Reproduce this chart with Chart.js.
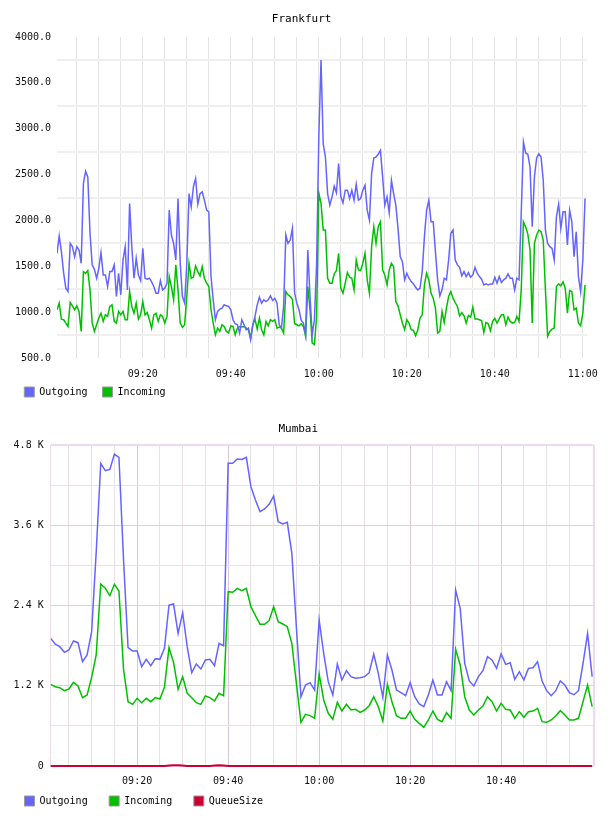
<!DOCTYPE html>
<html>
<head>
<meta charset="utf-8">
<script src="https://cdn.jsdelivr.net/npm/chart.js@4.4.1/dist/chart.umd.min.js"></script>
<style>
  body { margin: 0; background: #fff; }
  canvas { display: block; }
</style>
</head>
<body>
<canvas id="frankfurt" width="608" height="407"></canvas>
<canvas id="mumbai" width="608" height="409"></canvas>
<script>
// Frankfurt: one sample every 30 s, starting 09:00:30 (minutes after 09:00)
var frankOut = [
  1641, 1830, 1660, 1431, 1261, 1225, 1750, 1714, 1605, 1714,
  1678, 1533, 2403, 2536, 2475, 1860, 1515, 1467, 1370, 1478,
  1649, 1406, 1406, 1279, 1442, 1442, 1515, 1170, 1424, 1189,
  1569, 1714, 1243, 2185, 1714, 1370, 1587, 1406, 1344, 1696,
  1370, 1359, 1370, 1330, 1279, 1207, 1207, 1344, 1243, 1261,
  1315, 2112, 1841, 1750, 1569, 2239, 1533, 1170, 1098, 1533,
  2293, 2149, 2366, 2457, 2178, 2293, 2312, 2221, 2112, 2094,
  1388, 1134, 917, 1008, 1033, 1044, 1080, 1069, 1062, 1026,
  917, 873, 862, 772, 917, 862, 808, 826, 700, 862,
  953, 1080, 1163, 1098, 1134, 1116, 1134, 1178, 1127, 1152,
  1098, 862, 826, 1062, 1841, 1750, 1786, 1913, 1207, 1098,
  1026, 909, 881, 753, 1678, 1170, 753, 917, 1533, 2909,
  3750, 2837, 2692, 2293, 2166, 2257, 2373, 2301, 2620, 2257,
  2192, 2330, 2330, 2239, 2330, 2221, 2395, 2221, 2239, 2330,
  2384, 2112, 2004, 2511, 2681, 2692, 2721, 2764, 2475, 2166,
  2257, 2083, 2438, 2293, 2166, 1913, 1605, 1551, 1352, 1424,
  1370, 1333, 1308, 1272, 1243, 1261, 1442, 1823, 2112, 2221,
  1985, 1985, 1660, 1352, 1178, 1243, 1370, 1352, 1569, 1859,
  1895, 1569, 1515, 1489, 1395, 1442, 1388, 1431, 1381, 1406,
  1489, 1424, 1388, 1359, 1297, 1308, 1297, 1308, 1308, 1381,
  1315, 1388, 1322, 1352, 1370, 1417, 1370, 1370, 1243, 1370,
  1352, 2076, 2855, 2735, 2721, 2583, 1931, 2475, 2681, 2728,
  2692, 2438, 1895, 1750, 1714, 1696, 1569, 2040, 2178, 1913,
  2094, 2094, 1732, 2112, 1985, 1605, 1877, 1388, 1225, 1569,
  2239
];
var frankIn = [
  1026, 1098, 924, 917, 881, 844, 1105, 1069, 1026, 1069,
  1008, 790, 1442, 1424, 1453, 1243, 881, 790, 862, 935,
  989, 899, 971, 953, 1062, 1080, 899, 881, 1008, 971,
  1008, 917, 917, 1225, 1062, 989, 1098, 924, 971, 1116,
  971, 996, 917, 826, 971, 989, 899, 971, 953, 881,
  953, 1388, 1279, 1134, 1515, 1243, 881, 833, 862, 1170,
  1533, 1370, 1381, 1504, 1442, 1395, 1496, 1370, 1315, 1279,
  1026, 881, 753, 826, 790, 862, 844, 790, 772, 851,
  844, 753, 826, 844, 837, 844, 826, 808, 717, 862,
  924, 815, 935, 808, 753, 899, 851, 917, 899, 917,
  826, 837, 826, 772, 1225, 1189, 1170, 1141, 873, 862,
  851, 873, 844, 736, 1279, 1026, 663, 645, 953, 2300,
  2185, 1895, 1895, 1370, 1315, 1315, 1417, 1453, 1641, 1261,
  1207, 1315, 1431, 1381, 1370, 1243, 1569, 1460, 1453, 1533,
  1641, 1352, 1207, 1714, 1931, 1750, 1931, 1985, 1460, 1406,
  1297, 1460, 1533, 1496, 1116, 1069, 971, 881, 808, 917,
  881, 808, 801, 743, 808, 935, 971, 1297, 1424, 1352,
  1207, 1152, 1044, 772, 790, 1008, 888, 1044, 1170, 1225,
  1152, 1105, 1062, 960, 996, 960, 881, 964, 946, 1055,
  924, 924, 917, 909, 779, 888, 873, 797, 899, 931,
  881, 928, 971, 971, 862, 946, 899, 881, 888, 953,
  899, 1243, 1985, 1931, 1851, 1678, 881, 1750, 1841, 1895,
  1877, 1786, 1243, 736, 790, 815, 826, 1279, 1308, 1286,
  1330, 1261, 989, 1236, 1225, 1026, 1044, 881, 851, 989,
  1297
];

// Mumbai: one sample per minute, 09:01 .. 11:00
var mumOut = [
  1909, 1820, 1784, 1700, 1735, 1869, 1844, 1560, 1660, 2009,
  3200, 4526, 4416, 4436, 4661, 4616, 3100, 1769, 1720, 1720,
  1485, 1595, 1500, 1605, 1595, 1760, 2407, 2422, 1984, 2292,
  1784, 1395, 1525, 1450, 1585, 1595, 1500, 1835, 1799, 4526,
  4526, 4591, 4585, 4616, 4177, 3977, 3803, 3843, 3913, 4037,
  3653, 3619, 3644, 3180, 2070, 1036, 1211, 1246, 1136, 2183,
  1685, 1261, 1062, 1525, 1286, 1425, 1336, 1311, 1321, 1336,
  1395, 1675, 1386, 1027, 1660, 1435, 1136, 1096, 1051, 1246,
  1036, 927, 887, 1062, 1286, 1062, 1062, 1261, 1126, 2630,
  2358, 1535, 1271, 1196, 1336, 1425, 1635, 1585, 1460, 1675,
  1520, 1545, 1296, 1410, 1286, 1460, 1470, 1560, 1271, 1126,
  1051, 1126, 1271, 1211, 1096, 1066, 1126, 1535, 1984, 1336
];
var mumIn = [
  1221, 1186, 1171, 1126, 1151, 1251, 1196, 1022, 1062, 1326,
  1660, 2721, 2657, 2547, 2717, 2617, 1450, 962, 922, 1012,
  947, 1012, 962, 1022, 1002, 1176, 1769, 1550, 1147, 1336,
  1087, 1022, 947, 922, 1047, 1022, 972, 1087, 1051, 2607,
  2597, 2657, 2622, 2657, 2382, 2248, 2118, 2118, 2173, 2382,
  2158, 2123, 2083, 1835, 1236, 653, 773, 753, 713, 1376,
  987, 788, 698, 952, 822, 922, 837, 847, 802, 837,
  902, 1036, 887, 673, 1221, 962, 753, 713, 713, 822,
  698, 638, 578, 688, 822, 698, 663, 797, 713, 1745,
  1510, 1036, 837, 763, 837, 897, 1036, 962, 822, 937,
  847, 837, 713, 812, 728, 812, 822, 862, 663, 653,
  688, 748, 827, 763, 688, 688, 713, 962, 1211, 887
];
var mumQueue = [
  0, 0, 0, 0, 0, 0, 0, 0, 0, 0,
  0, 0, 0, 0, 0, 0, 0, 0, 0, 0,
  0, 0, 0, 0, 0, 0, 8, 12, 10, 6,
  0, 0, 0, 0, 0, 0, 6, 10, 8, 0,
  0, 0, 0, 0, 0, 0, 0, 0, 0, 0,
  0, 0, 0, 0, 0, 0, 0, 0, 0, 0,
  0, 0, 0, 0, 0, 0, 0, 0, 0, 0,
  0, 0, 0, 0, 0, 0, 0, 0, 0, 0,
  0, 0, 0, 0, 0, 0, 0, 0, 0, 0,
  0, 0, 0, 0, 0, 0, 0, 0, 0, 0,
  0, 0, 0, 0, 0, 0, 0, 0, 0, 0,
  0, 0, 0, 0, 0, 0, 0, 0, 0, 0
];

var frankTimes = frankOut.map(function (v, i) { return 0.5 + i * 0.5; });
var mumTimes = mumOut.map(function (v, i) { return 1 + i; });

var blue = '#6464ff', green = '#00c000', red = '#cc0033';
var mono = "'DejaVu Sans Mono', monospace";

Chart.defaults.font.family = mono;
Chart.defaults.font.size = 10;
Chart.defaults.color = '#111';

// legend sits a little higher than chart.js puts it (it overlaps the tick label band)
var legendShift = {
  id: 'legendShift',
  afterLayout: function (chart, args, opts) {
    if (chart.legend && opts.y) chart.legend.top += opts.y;
  }
};

function pts(times, vals) {
  return vals.map(function (v, i) { return { x: times[i], y: v }; });
}
function hhmm(t) {
  var h = 9 + Math.floor(t / 60), m = t % 60;
  return (h < 10 ? '0' : '') + h + ':' + (m < 10 ? '0' : '') + m;
}
function tickList(from, to, step, extra) {
  var out = [];
  for (var v = from; v <= to; v += step) out.push({ value: v });
  if (extra !== undefined) out.push({ value: extra });
  return out;
}
function legendLabels(chart) {
  return Chart.defaults.plugins.legend.labels.generateLabels(chart).map(function (l) {
    l.strokeStyle = '#999';
    l.lineWidth = 1;
    return l;
  });
}
function line(label, color, times, vals) {
  return {
    label: label, data: pts(times, vals),
    borderColor: color, backgroundColor: color,
    borderWidth: 1.5, pointRadius: 0, tension: 0
  };
}

var queueLine = line('QueueSize', red, mumTimes, mumQueue);
queueLine.borderWidth = 2;
queueLine.clip = false;

/*-----Frankfurt-----*/
new Chart(document.getElementById('frankfurt'), {
  type: 'line',
  plugins: [legendShift],
  data: {
    datasets: [
      line('Outgoing', blue, frankTimes, frankOut),
      line('Incoming', green, frankTimes, frankIn)
    ]
  },
  options: {
    responsive: false,
    animation: false,
    layout: { padding: { left: 9.3, right: 14, top: 0, bottom: 0 } },
    plugins: {
      title: { display: true, text: 'Frankfurt', color: '#000',
        font: { size: 11, weight: 'normal' }, padding: { top: 13, bottom: 10.8 } },
      legend: { position: 'bottom', align: 'start', maxHeight: 27,
        labels: { boxWidth: 10, boxHeight: 10, padding: 15, color: '#000', generateLabels: legendLabels } },
      legendShift: { y: -8 },
      tooltip: { enabled: false }
    },
    scales: {
      x: {
        type: 'linear', min: 0.5, max: 121,
        afterBuildTicks: function (s) { s.ticks = tickList(5, 120, 5); },
        afterFit: function (s) { s.height = 22; },
        border: { display: false },
        grid: { color: '#e4e4e4', lineWidth: 1, drawTicks: false },
        ticks: { autoSkip: false, maxRotation: 0, padding: 10,
          callback: function (v) { return v % 20 === 0 ? hhmm(v) : ''; } }
      },
      y: {
        min: 500, max: 4000,
        afterBuildTicks: function (s) { s.ticks = tickList(500, 4000, 250); },
        afterFit: function (s) { s.width = 47.7; },
        border: { display: false },
        grid: { drawTicks: false, lineWidth: 2,
          color: function (c) { return c.tick && c.tick.value % 500 === 0 ? 'rgba(0,0,0,0)' : '#efefef'; } },
        ticks: { autoSkip: false, padding: 6,
          callback: function (v) { return v % 500 === 0 ? v.toFixed(1) : ''; } }
      }
    }
  }
});

/*-----Mumbai-----*/
new Chart(document.getElementById('mumbai'), {
  type: 'line',
  plugins: [legendShift],
  data: {
    datasets: [
      line('Outgoing', blue, mumTimes, mumOut),
      line('Incoming', green, mumTimes, mumIn),
      queueLine
    ]
  },
  options: {
    responsive: false,
    animation: false,
    layout: { padding: { left: 3, right: 14.5, top: 0, bottom: 0 } },
    plugins: {
      title: { display: true, text: 'Mumbai', color: '#000',
        font: { size: 11, weight: 'normal' }, padding: { top: 15.4, bottom: 9.4 } },
      legend: { position: 'bottom', align: 'start', maxHeight: 28.3,
        labels: { boxWidth: 10, boxHeight: 10, padding: 21.5, color: '#000', generateLabels: legendLabels } },
      legendShift: { y: -13.2 },
      tooltip: { enabled: false }
    },
    scales: {
      x: {
        type: 'linear', min: 1, max: 120.3,
        afterBuildTicks: function (s) { s.ticks = tickList(5, 115, 5, 120.3); },
        afterFit: function (s) { s.height = 21.7; },
        border: { display: false },
        grid: { drawTicks: false,
          lineWidth: function (c) { return c.tick && c.tick.value > 120 ? 2 : 1; },
          color: function (c) {
            var v = c.tick ? c.tick.value : 0;
            if (v > 120) return '#efd9ef';
            return v % 20 === 0 ? '#dcc6dc' : '#e8e2e8';
          } },
        ticks: { autoSkip: false, maxRotation: 0, padding: 9.7,
          callback: function (v) { return v % 20 === 0 && v < 120 ? hhmm(v) : ''; } }
      },
      y: {
        min: 0, max: 4800,
        afterBuildTicks: function (s) { s.ticks = tickList(0, 4800, 600); },
        afterFit: function (s) { s.width = 47.7; },
        border: { display: true, color: '#ecdcec', width: 1 },
        grid: { drawTicks: false,
          lineWidth: function (c) { return c.tick && c.tick.value === 4800 ? 2 : 1; },
          color: function (c) {
            var v = c.tick ? c.tick.value : 0;
            if (v === 4800) return '#efd9ef';
            return v % 1200 === 0 ? '#e4cce4' : '#e8e3e8';
          } },
        ticks: { autoSkip: false, padding: 7,
          callback: function (v) {
            if (v % 1200 !== 0) return '';
            return v === 0 ? '0' : (v / 1000).toFixed(1) + ' K';
          } }
      }
    }
  }
});
</script>
</body>
</html>
